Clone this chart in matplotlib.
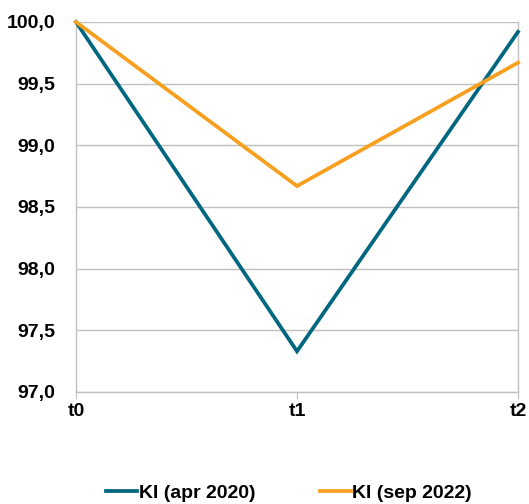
import matplotlib.pyplot as plt
from matplotlib.ticker import FuncFormatter

periods = ['t0', 't1', 't2']
ki_apr_2020 = [100.0, 97.33, 99.92]
ki_sep_2022 = [100.0, 98.67, 99.67]

plt.rcParams['font.family'] = ['Liberation Sans', 'DejaVu Sans']
plt.rcParams['font.weight'] = 'bold'
plt.rcParams['font.size'] = 14

fig = plt.figure(figsize=(5.29, 5.04), dpi=100)
ax = fig.add_axes([76 / 529, 1 - 392 / 504, (518 - 76) / 529, (392 - 22) / 504])

x = range(len(periods))
ax.plot(x, ki_apr_2020, color='#00677f', lw=2.7, label='KI (apr 2020)',
        solid_joinstyle='miter', clip_on=False, zorder=3)
ax.plot(x, ki_sep_2022, color='#f7a01f', lw=2.7, label='KI (sep 2022)',
        solid_joinstyle='miter', clip_on=False, zorder=3)

ax.set_xlim(0, 2)
ax.set_ylim(97, 100)
ax.set_xticks(list(x))
ax.set_xticklabels(periods)
ax.set_yticks([97, 97.5, 98, 98.5, 99, 99.5, 100])
ax.yaxis.set_major_formatter(FuncFormatter(lambda v, p: f'{v:.1f}'.replace('.', ',')))

ax.grid(axis='y', color='#c0c0c0', lw=1)
ax.set_axisbelow(True)
for s in ax.spines.values():
    s.set_color('#c0c0c0')
    s.set_linewidth(1)
ax.spines['top'].set_visible(False)
ax.tick_params(axis='y', length=0, pad=15)
ax.tick_params(axis='x', length=5, color='#c0c0c0', pad=3)

ax.legend(loc='center', bbox_to_anchor=(0.482, -0.273), ncol=2, frameon=False,
          handlelength=1.6, handletextpad=0.08, columnspacing=3.3, fontsize=14)

fig.savefig('out.png', dpi=100)
